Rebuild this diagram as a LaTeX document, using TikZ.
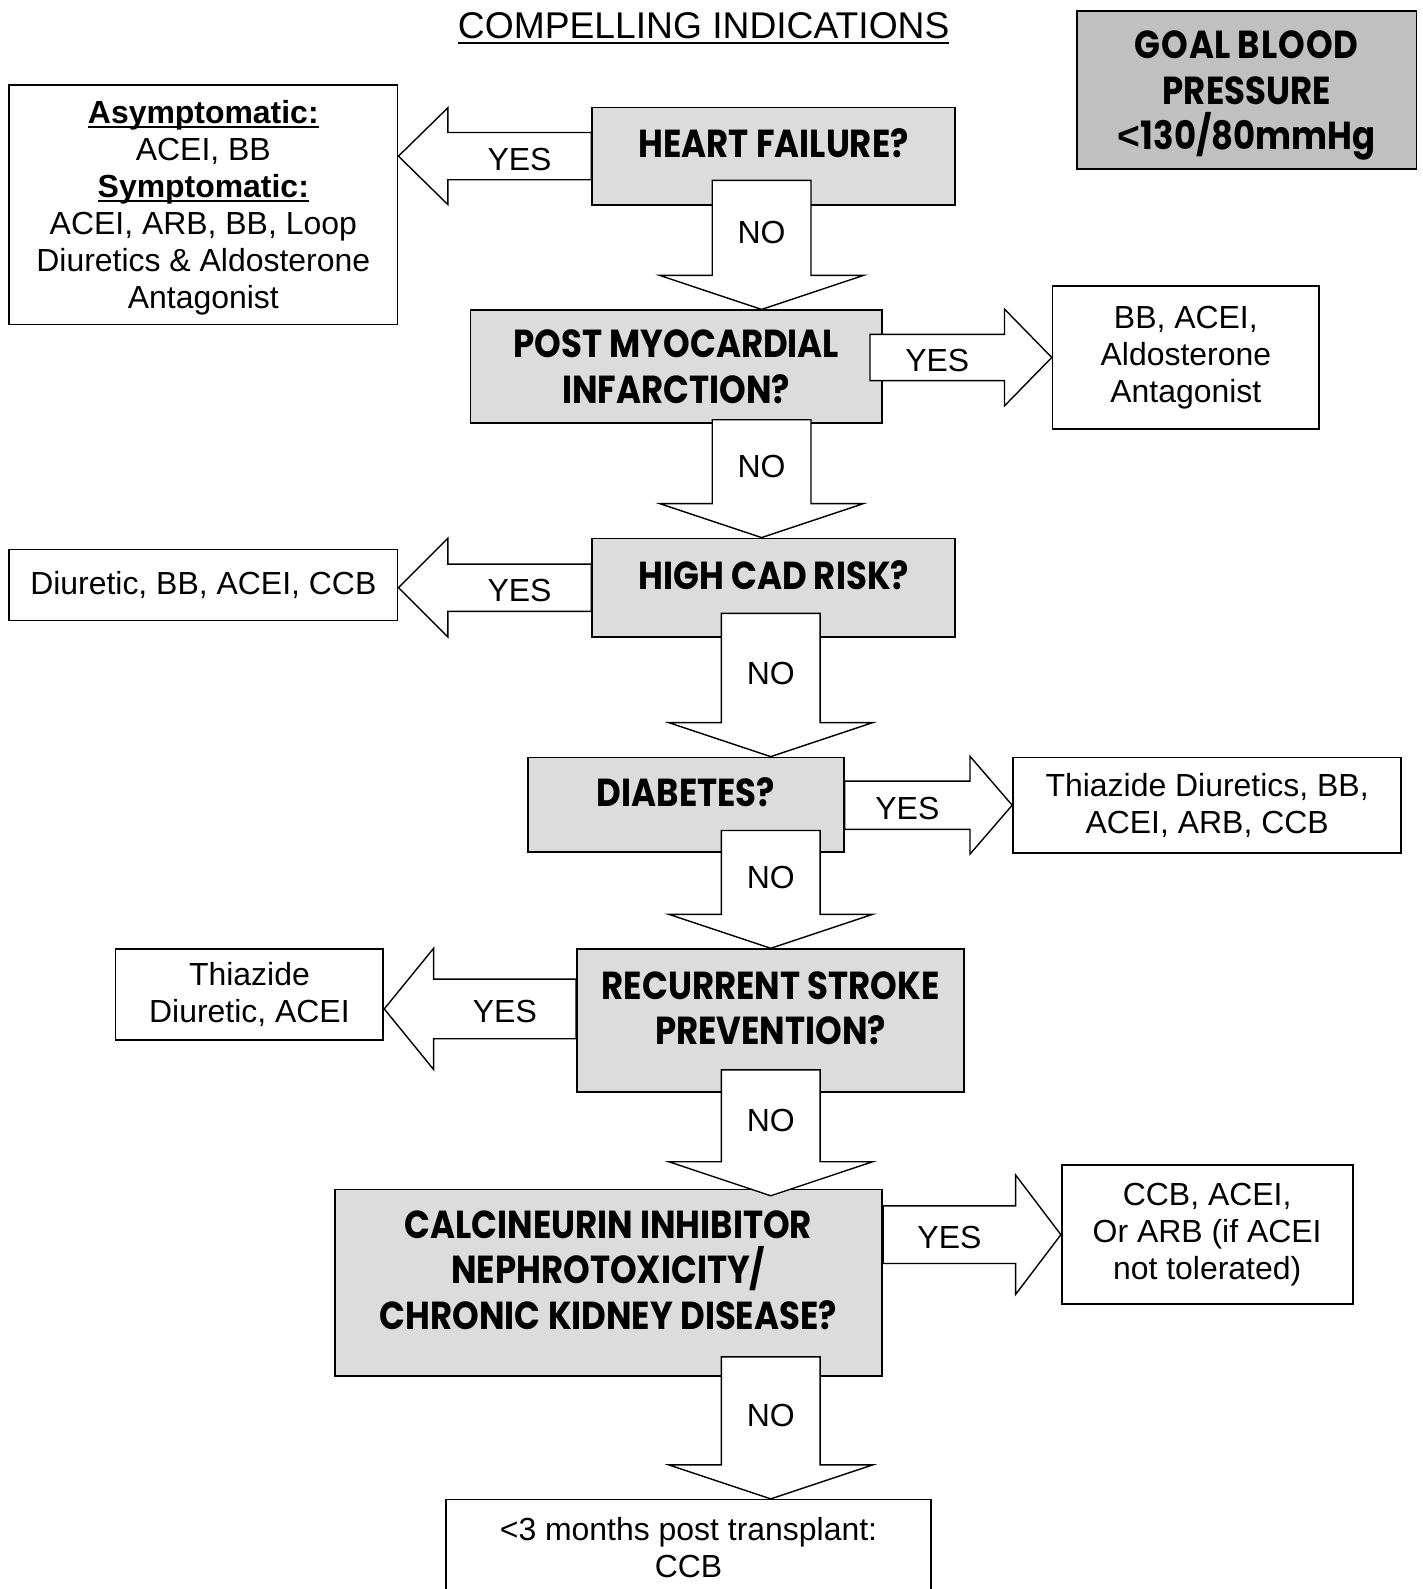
\documentclass[tikz,border=0pt]{standalone}
\usepackage{fontspec}
\setmainfont{Liberation Sans}
\newfontfamily\qfont{Poppins}[FakeStretch=0.87]
\usetikzlibrary{calc}

\definecolor{qgray}{RGB}{220,220,220}
\definecolor{goalgray}{RGB}{192,192,192}

% underline at a given depth
\newsavebox{\ulbox}
\newcommand{\ulined}[2]{\sbox{\ulbox}{#2}\rlap{\rule[-#1]{\wd\ulbox}{2pt}}\usebox{\ulbox}}

% block arrow sideways: start, tip, half shaft, half head, head length, label
\newcommand{\yesarrow}[6]{%
  \draw[blockarrow] let \p1=#1, \p2=#2 in
    (\x1,{\y2+#3}) -- ({\x2-(#5)},{\y2+#3}) -- ({\x2-(#5)},{\y2+#4}) -- (\x2,\y2)
    -- ({\x2-(#5)},{\y2-#4}) -- ({\x2-(#5)},{\y2-#3}) -- (\x1,{\y2-#3}) -- cycle
    ({(\x1+\x2-(#5))/2},{\y2-3}) node[lbl] {#6};}
% block arrow downwards: start, tip, overlap into upper box, label
\newcommand{\noarrow}[4]{%
  \draw[blockarrow] let \p1=#1, \p2=#2 in
    ({\x2-48.7},{\y1+#3}) -- ({\x2-48.7},{\y2+33.5}) -- ({\x2-100.4},{\y2+33.5}) -- (\x2,\y2)
    -- ({\x2+100.4},{\y2+33.5}) -- ({\x2+48.7},{\y2+33.5}) -- ({\x2+48.7},{\y1+#3}) -- cycle
    (\x2,{(\y1+#3+\y2+33.5)/2-5}) node[lbl] {#4};}

\begin{document}
\begin{tikzpicture}[x=1pt, y=1pt, scale=1.014, transform shape,
    every node/.style={font=\fontsize{31.5}{36.5}\selectfont},
    qbox/.style={draw, line width=1.8pt, fill=qgray, align=center, inner sep=0pt,
                 text depth=25pt, font=\qfont\bfseries\fontsize{38.5}{44.5}\selectfont},
    rbox/.style={draw, line width=1.8pt, fill=white, align=center, inner sep=0pt},
    blockarrow/.style={draw, line width=1.4pt, fill=white, line join=miter},
    lbl/.style={inner sep=0pt}]
  \useasboundingbox (0,0) rectangle (1402.4,-1567.1);

  \node (title) at (694,-28) {\fontsize{36.7}{44}\selectfont\ulined{6pt}{COMPELLING INDICATIONS}};
  \node[rbox, fill=goalgray, minimum width=335, minimum height=156, text depth=0pt,
        font=\qfont\bfseries\fontsize{38.5}{45}\selectfont] (goal) at (1229.5,-89)
        {G\kern1pt O\kern1pt AL B\kern1pt L\kern1pt O\kern1pt O\kern1pt D\\PRESSURE\\{\normalfont\bfseries<}130/80mmHg};

  % questions
  \node[qbox, minimum width=358, minimum height=96]  (hf)     at (763,-154)    {HEART FAILURE?};
  \node[qbox, minimum width=406, minimum height=111, text depth=0pt]
                                                      (pmi)    at (667,-361.5)  {POST MYOCARDIAL\\INFARCTION?};
  \node[qbox, minimum width=358, minimum height=97]  (cad)    at (763,-579.5)  {HIGH CAD RISK?};
  \node[qbox, minimum width=311, minimum height=93]  (dm)     at (676.5,-793.5) {DIABETES?};
  \node[qbox, minimum width=382, minimum height=141] (stroke) at (760,-1006.5) {RECURRENT STROKE\\PREVENTION?};
  \node[qbox, minimum width=540, minimum height=184] (cni)    at (600,-1265)
        {CALCINEURIN INHIBITOR\\NEPHROTOXICITY/\\CHRONIC KIDNEY DISEASE?};

  % treatments
  \node[rbox, minimum width=383, minimum height=236, text depth=0pt] (hfrx) at (200.5,-202)
        {\textbf{\ulined{4pt}{Asymptomatic:}}\\ACEI, BB\\
         \textbf{\ulined{4pt}{Symptomatic:}}\\ACEI, ARB, BB, Loop\\
         Diuretics \& Aldosterone\\Antagonist};
  \node[rbox, minimum width=263, minimum height=141] (pmirx) at (1169.5,-352.5)
        {BB, ACEI,\\Aldosterone\\Antagonist};
  \node[rbox, minimum width=383, minimum height=70]  (cadrx) at (200.5,-577) {Diuretic, BB, ACEI, CCB};
  \node[rbox, minimum width=383, minimum height=94]  (dmrx)  at (1190.5,-794)
        {Thiazide Diuretics, BB,\\ACEI, ARB, CCB};
  \node[rbox, minimum width=264, minimum height=90]  (strokerx) at (246,-981)
        {Thiazide\\Diuretic, ACEI};
  \node[rbox, minimum width=287, minimum height=137] (cnirx) at (1190.5,-1217.5)
        {CCB, ACEI,\\Or ARB (if ACEI\\not tolerated)};
  \node[rbox, minimum width=478, anchor=north, inner ysep=18pt, text depth=60pt] (tx) at (679,-1478)
        {<3 months post transplant:\\CCB};

  \coordinate (colA) at (751,0);
  \coordinate (colB) at (760,0);

  % yes arrows
  \yesarrow{(hf.west)}{(hfrx.east |- hf.west)}{23.3}{47.7}{-48.7}{YES}
  \yesarrow{([xshift=-13pt]pmi.east)}{(pmirx.west)}{22.8}{47.7}{46.6}{YES}
  \yesarrow{(cad.west)}{(cadrx.east |- cad.west)}{23.3}{48.7}{-48.7}{YES}
  \yesarrow{(dm.east)}{(dmrx.west)}{23.8}{48.2}{41.6}{YES}
  \yesarrow{(stroke.west)}{(strokerx.east |- 0,-995)}{29.4}{59.8}{-48.7}{YES}
  \yesarrow{(cni.east)}{(cnirx.west)}{28.4}{58.8}{44.6}{YES}

  % no arrows
  \noarrow{(hf.south -| colA)}{(pmi.north -| colA)}{25}{NO}
  \noarrow{(pmi.south -| colA)}{(cad.north -| colA)}{4}{NO}
  \noarrow{(cad.south -| colB)}{(dm.north -| colB)}{24}{NO}
  \noarrow{(dm.south -| colB)}{(stroke.north -| colB)}{22}{NO}
  \noarrow{(stroke.south -| colB)}{([yshift=-7pt]cni.north -| colB)}{23}{NO}
  \noarrow{(cni.south -| colB)}{(tx.north -| colB)}{20}{NO}
\end{tikzpicture}
\end{document}
